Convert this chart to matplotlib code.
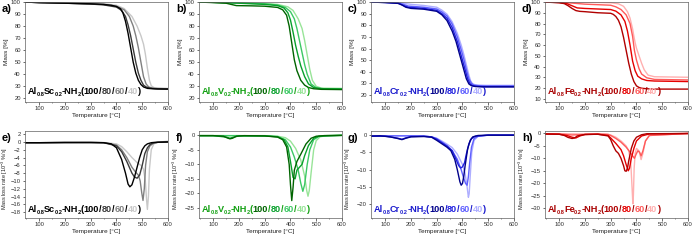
import matplotlib
matplotlib.use("Agg")
import matplotlib.pyplot as plt
from matplotlib.ticker import MultipleLocator
import numpy as np

plt.rcParams['font.family'] = ['Liberation Sans', 'DejaVu Sans']
plt.rcParams['mathtext.fontset'] = 'custom'
plt.rcParams['mathtext.rm'] = 'Liberation Sans'

# ---------------- data ----------------
series_labels = ["100", "80", "60", "40"]

# Panel a: Al0.8Sc0.2-NH2, TGA
a100_T = [40,100,200,300,350,380,400,415,425,435,445,455,465,475,485,495,505,520,540,560,600]
a100_M = [100,99.5,99,98.5,98,97.3,96.3,94.5,91,84,74,62,50,41,35,31.5,29.5,28.3,28,27.8,27.7]
a80_T = [40,100,200,300,350,400,420,435,445,455,465,475,485,495,505,515,530,550,600]
a80_M = [100,99.5,99,98.3,97.6,95.8,93,88,81,72,61,50,41,35,31,29.5,28.5,28,27.8]
a60_T = [40,100,200,300,350,400,430,450,465,475,485,495,505,515,525,540,560,600]
a60_M = [100,99.5,99,98.5,98,96.5,93.5,88,80,72,62,50,38,32,29.5,28.5,28.2,28]
a40_T = [40,100,200,300,350,400,430,460,480,495,505,512,520,528,535,545,560,600]
a40_M = [100,99.7,99.3,99,98.6,97.3,94.5,88,80,72,65,57,45,35,30.5,29,28.5,28.3]

# Panel e: Al0.8Sc0.2-NH2, DTG
e100_T = [40,100,200,300,350,380,400,420,435,445,452,460,470,480,490,500,510,520,535,550,600]
e100_R = [-0.2,-0.2,-0.15,-0.15,-0.2,-0.5,-1.5,-4.5,-8,-10.8,-11.5,-11,-9,-6.5,-4,-2,-1,-0.5,-0.2,-0.1,0]
e80_T = [40,100,200,300,350,400,420,440,460,470,480,490,500,510,520,530,540,560,600]
e80_R = [-0.2,-0.2,-0.15,-0.15,-0.2,-1,-2.5,-5,-8,-9,-9.3,-8.5,-6,-3,-1.5,-0.7,-0.3,-0.1,0]
e60_T = [40,100,200,300,350,400,420,440,460,475,485,492,498,503,508,513,520,530,545,560,600]
e60_R = [-0.2,-0.2,-0.15,-0.15,-0.2,-0.8,-2,-4,-6.5,-7.8,-8.5,-10,-13,-15,-12,-6,-2.5,-1,-0.3,-0.1,0]
e40_T = [40,100,200,300,350,400,420,440,460,480,495,505,512,517,520,524,528,535,545,560,600]
e40_R = [-0.2,-0.2,-0.15,-0.1,-0.15,-0.5,-1.2,-2.5,-4,-5.3,-6,-7,-10,-15,-17.3,-14,-7,-2,-0.5,-0.1,0.2]

# Panel b: Al0.8V0.2-NH2, TGA
b100_T = [40,100,150,170,190,250,300,350,370,385,395,405,415,425,440,455,470,490,520,600]
b100_M = [100,99.5,99,98,97,96.8,96.5,95.5,93.5,89,80,66,52,43,35,31,29,28,27.5,27.3]
b80_T = [40,100,200,300,350,375,390,400,410,420,430,440,455,470,490,520,600]
b80_M = [100,99.7,99,98,97,95,91,85,75,64,55,47,38,32,29,28,27.8]
b60_T = [40,100,200,300,350,380,400,415,425,435,445,455,465,480,500,530,600]
b60_M = [100,99.7,99.2,98.5,97.5,95.5,92,86,78,68,58,48,40,32,28.8,28,27.8]
b40_T = [40,100,200,300,350,390,410,430,445,455,465,475,485,500,520,600]
b40_M = [100,99.8,99.4,98.8,98,96,93,86,78,68,56,44,35,30,28.5,28.3]

# Panel f: Al0.8V0.2-NH2, DTG
f100_T = [40,100,140,155,165,175,190,220,300,350,370,385,395,400,405,410,415,425,440,460,480,500,530,600]
f100_R = [-0.1,-0.1,-0.3,-0.9,-1.2,-1,-0.3,-0.1,-0.2,-0.6,-1.5,-4,-10,-17,-22.5,-18,-12,-9,-6.5,-3,-1,-0.3,-0.1,0]
f80_T = [40,100,150,165,180,200,300,350,375,390,400,410,418,425,435,445,455,470,490,510,600]
f80_R = [-0.1,-0.1,-0.6,-1,-0.6,-0.2,-0.2,-0.5,-1.5,-4,-9,-14.5,-15,-12,-11,-10,-7,-3.5,-1,-0.3,0]
f60_T = [40,100,200,300,350,380,400,415,430,440,448,455,465,475,490,510,530,600]
f60_R = [-0.1,-0.1,-0.1,-0.2,-0.4,-1.5,-4,-7.5,-12,-16.5,-19.3,-17,-10,-5,-1.5,-0.4,-0.1,0]
f40_T = [40,100,200,300,350,380,400,420,440,455,463,468,473,480,490,500,515,540,600]
f40_R = [-0.1,-0.1,-0.1,-0.1,-0.3,-0.8,-2,-4.5,-8.5,-14,-19,-21,-19,-13,-5,-1.8,-0.5,-0.1,0]

# Panel c: Al0.8Cr0.2-NH2, TGA
c100_T = [40,100,150,165,180,200,250,300,320,340,360,375,385,395,405,415,425,435,450,480,600]
c100_M = [100,99.5,98.8,97.5,95.5,94.5,93.8,92,89,84,75,66,58,50,42,34,29.5,28,27.3,27,27]
c80_T = [40,100,150,170,190,250,300,320,340,360,380,390,400,410,420,430,440,455,480,600]
c80_M = [100,99.6,99,97,95.5,94.5,92.8,90,86,78,66,58,50,42,34,29.5,28,27.5,27.2,27.2]
c60_T = [40,100,150,170,190,250,300,320,340,360,380,395,405,415,425,435,445,460,490,600]
c60_M = [100,99.7,99.3,98,96.5,95.5,94,91.5,88,81,70,59,51,42,34,30,28.5,28,27.8,27.8]
c40_T = [40,100,150,200,250,300,320,340,360,380,395,405,415,425,432,440,450,465,490,600]
c40_M = [100,99.8,99.5,98,97,95.5,93,89.5,83,73,63,55,46,37,32,29.5,28.8,28.5,28.3,28.3]

# Panel g: Al0.8Cr0.2-NH2, DTG
g100_T = [40,80,120,150,165,180,200,250,280,300,320,340,355,370,380,390,395,400,405,410,420,430,440,460,500,600]
g100_R = [-0.3,-0.2,-0.5,-1,-1.3,-0.9,-0.5,-0.4,-0.6,-1.5,-2.5,-3.5,-4.5,-7,-10,-13.5,-14.5,-14,-12,-9,-4,-1.5,-0.5,-0.1,0,0]
g80_T = [40,100,150,165,180,200,250,280,300,320,340,360,375,385,393,400,408,415,425,435,450,500,600]
g80_R = [-0.3,-0.3,-0.9,-1.2,-0.8,-0.4,-0.3,-0.5,-1.2,-2.2,-3.2,-4.5,-7,-8.8,-9.5,-9.2,-8,-5.5,-2.5,-1,-0.3,0,0]
g60_T = [40,100,200,250,280,300,320,340,360,380,395,405,412,418,423,428,435,445,460,500,600]
g60_R = [-0.2,-0.2,-0.2,-0.3,-0.5,-1,-2,-3,-4.5,-7,-10,-12.5,-14,-14.5,-12,-8,-3.5,-1,-0.3,0,0]
g40_T = [40,100,200,250,280,300,320,340,360,380,400,410,418,423,426,430,436,445,460,500,600]
g40_R = [-0.2,-0.2,-0.2,-0.3,-0.5,-0.9,-1.7,-2.6,-3.6,-5.5,-8.5,-11,-15,-18,-17,-12,-5,-1.5,-0.4,0,0]

# Panel d: Al0.8Fe0.2-NH2, TGA
d100_T = [40,100,120,135,150,165,180,200,250,300,310,320,330,340,350,360,370,380,390,400,410,420,440,470,600]
d100_M = [100,99.3,98.5,96.5,94,92,91.3,91,90,89.5,88.5,86.5,83,77,67,55,43,33,26,22,20.5,19.8,19.3,19,19]
d80_T = [40,100,130,150,170,200,250,300,320,340,355,365,375,385,395,405,420,440,470,600]
d80_M = [100,99.5,98.5,96.5,94.5,94,93.5,93,91.5,88,82,73,60,45,36,31,28.5,27,26.5,26]
d60_T = [40,100,150,200,250,300,320,340,360,375,385,392,400,410,420,440,470,600]
d60_M = [100,99.8,99,98,97.5,97,95.5,93,88,80,68,55,46,38,33,29.5,28,27.5]
d40_T = [40,100,200,300,330,350,365,375,385,390,395,400,410,420,430,445,470,600]
d40_M = [100,100,99.8,99.3,98.3,96,91,85,75,68,62,57,50,43,37,32,30.5,30]

# Panel h: Al0.8Fe0.2-NH2, DTG
h100_T = [40,100,120,135,150,160,170,200,250,290,300,310,320,330,340,350,355,360,365,370,380,390,400,420,440,600]
h100_R = [-0.2,-0.3,-0.8,-1.6,-2,-1.8,-1,-0.4,-0.3,-1,-2.5,-5,-7,-8,-10,-13,-15,-15.2,-14,-11,-6,-3,-1.5,-0.5,-0.1,0]
h80_T = [40,100,130,150,165,180,200,250,290,300,320,340,350,360,368,373,380,390,400,420,450,600]
h80_R = [-0.2,-0.3,-0.8,-1.5,-1.8,-1,-0.4,-0.3,-0.8,-1.8,-4,-6.5,-9,-12.5,-15,-14,-10,-6,-3,-1,-0.2,0]
h60_T = [40,100,150,200,220,230,250,290,300,320,340,360,375,385,392,398,405,412,418,425,435,450,600]
h60_R = [-0.1,-0.2,-0.6,-0.4,-0.3,-0.3,-0.2,-0.4,-0.8,-2,-3.5,-5.5,-7.5,-9,-10,-8.5,-7,-7.5,-9,-7,-3,-0.8,0]
h40_T = [40,100,200,250,290,300,320,340,360,370,378,383,386,388,391,395,400,410,418,425,435,450,600]
h40_R = [-0.1,-0.1,-0.2,-0.2,-0.3,-0.6,-1.5,-3,-5,-7,-12,-22,-28.3,-25,-14,-8,-6,-7,-10.5,-8,-3,-0.8,0]

x_ticks = [100, 200, 300, 400, 500, 600]

# ---------------- styling ----------------
SC = ['#000000', '#3a3a3a', '#808080', '#c8c8c8']
VV = ['#006400', '#08a02c', '#3cc864', '#98e498']
CR = ['#00008b', '#2020e0', '#6060ff', '#aeaeff']
FE = ['#b00000', '#e60000', '#ff5a5a', '#ffb0b0']
panels = [
    ("a)", 0, 0, [(a100_T, a100_M), (a80_T, a80_M), (a60_T, a60_M), (a40_T, a40_M)], "Sc", SC, '#000000', (17, 100), (20, 100, 10)),
    ("b)", 0, 1, [(b100_T, b100_M), (b80_T, b80_M), (b60_T, b60_M), (b40_T, b40_M)], "V", VV, '#12a012', (17, 100), (20, 100, 10)),
    ("c)", 0, 2, [(c100_T, c100_M), (c80_T, c80_M), (c60_T, c60_M), (c40_T, c40_M)], "Cr", CR, '#1a1acd', (14, 100), (20, 100, 10)),
    ("d)", 0, 3, [(d100_T, d100_M), (d80_T, d80_M), (d60_T, d60_M), (d40_T, d40_M)], "Fe", FE, '#a80000', (7, 100), (10, 100, 10)),
    ("e)", 1, 0, [(e100_T, e100_R), (e80_T, e80_R), (e60_T, e60_R), (e40_T, e40_R)], "Sc", SC, '#000000', (-19.5, 2.8), (-18, 2, 2)),
    ("f)", 1, 1, [(f100_T, f100_R), (f80_T, f80_R), (f60_T, f60_R), (f40_T, f40_R)], "V", VV, '#12a012', (-28.5, 1.5), (-25, 0, 5)),
    ("g)", 1, 2, [(g100_T, g100_R), (g80_T, g80_R), (g60_T, g60_R), (g40_T, g40_R)], "Cr", CR, '#1a1acd', (-24, 1.2), (-20, 0, 5)),
    ("h)", 1, 3, [(h100_T, h100_R), (h80_T, h80_R), (h60_T, h60_R), (h40_T, h40_R)], "Fe", FE, '#a80000', (-34, 1), (-30, 0, 5)),
]

W, H = 693, 241
fig = plt.figure(figsize=(W / 100, H / 100), dpi=100)

col_left = [25, 199, 371, 545]
col_w = 143
row_top = [2, 131]
row_h = [100, 87]

axes = []
for letter, r, c, curves, el, colors, base, ylim, yt in panels:
    left = col_left[c] / W
    bottom = (H - row_top[r] - row_h[r]) / H
    ax = fig.add_axes([left, bottom, col_w / W, row_h[r] / H])
    for (T, V), col in list(zip(curves, colors))[::-1]:
        ax.plot(T, V, color=col, lw=1.0, solid_joinstyle='round')
    ax.set_xlim(45, 600)
    ax.set_ylim(*ylim)
    ax.set_xticks(x_ticks)
    ax.set_yticks(np.arange(yt[0], yt[1] + 0.01, yt[2]))
    ax.xaxis.set_minor_locator(MultipleLocator(50))
    for s in ax.spines.values():
        s.set_color('#606060')
        s.set_linewidth(0.5)
    ax.tick_params(which='major', direction='out', length=1.8, width=0.5, labelsize=4.2,
                   pad=1.2, colors='#303030')
    ax.tick_params(which='minor', direction='out', length=1.0, width=0.4, colors='#303030')
    ax.set_xlabel("Temperature [°C]", fontsize=4.6, labelpad=1, color='#202020')
    if r == 0:
        ax.set_ylabel("Mass [%]", fontsize=4.6, labelpad=1.5, color='#202020')
    else:
        ax.set_ylabel("Mass loss rate [10$^{-3}$ %/s]", fontsize=4.0, color='#202020')
        ax.yaxis.set_label_coords(-0.105 if c == 0 else -0.125, 0.45)
    fig.text((col_left[c] - 23) / W, 1 - (row_top[r] + 10) / H, letter, fontsize=8,
             fontweight='bold', ha='left', va='baseline')
    axes.append((ax, el, colors, base, r, c))

fig.canvas.draw()
renderer = fig.canvas.get_renderer()

FS = 6.6
for ax, el, colors, base, r, c in axes:
    pieces = [("Al", base, False), ("0.8", base, True), (el, base, False), ("0.2", base, True),
              ("-NH", base, False), ("2", base, True), ("(", base, False),
              ("100", colors[0], False), ("/", base, False), ("80", colors[1], False),
              ("/", base, False), ("60", colors[2], False), ("/", base, False),
              ("40", colors[3], False), (")", base, False)]
    bb = ax.get_window_extent(renderer)
    x = bb.x0 + 3
    y = bb.y0 + (8 if r == 0 else 6)
    for i, (s, col, sub) in enumerate(pieces):
        fs = FS * 0.62 if sub else FS
        yy = y - 2.0 if sub else y
        t = fig.text(x / W, yy / H, s, fontsize=fs, fontweight='bold', color=col,
                     ha='left', va='baseline')
        ext = t.get_window_extent(renderer)
        nxt_sub = i + 1 < len(pieces) and pieces[i + 1][2]
        if nxt_sub:
            x = ext.x1 - 0.8
        elif sub:
            x = ext.x1 - 0.2
        else:
            x = ext.x1 + 0.1

fig.savefig("out.png", dpi=100)
